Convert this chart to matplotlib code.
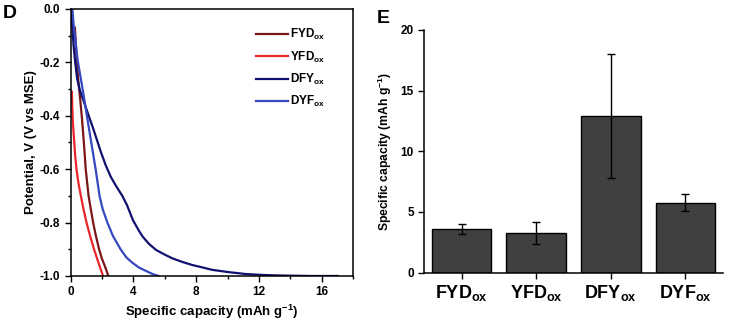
import numpy as np
import matplotlib
matplotlib.use("Agg")
import matplotlib.pyplot as plt
from matplotlib.ticker import MultipleLocator, FormatStrFormatter

plt.rcParams['font.family'] = ['Liberation Sans', 'DejaVu Sans']
plt.rcParams['font.weight'] = 'bold'
plt.rcParams['mathtext.fontset'] = 'custom'
plt.rcParams['mathtext.rm'] = 'Liberation Sans:bold'
plt.rcParams['mathtext.bf'] = 'Liberation Sans:bold'

# discharge curves (capacity in mAh/g, potential in V vs MSE)
fyd_cap = [0.28, 0.33, 0.39, 0.50, 0.62, 0.73, 0.85, 0.97, 1.15, 1.44, 1.62, 1.82, 2.00, 2.20, 2.41]
fyd_pot = [-0.07, -0.12, -0.19, -0.27, -0.34, -0.41, -0.50, -0.60, -0.70, -0.80, -0.85, -0.90, -0.935, -0.965, -1.0]

yfd_cap = [0.09, 0.11, 0.14, 0.18, 0.24, 0.30, 0.38, 0.50, 0.66, 0.83, 1.02, 1.25, 1.50, 1.75, 2.07]
yfd_pot = [-0.31, -0.36, -0.41, -0.45, -0.50, -0.55, -0.60, -0.65, -0.70, -0.75, -0.80, -0.85, -0.90, -0.945, -1.0]

dfy_cap = [0.05, 0.12, 0.20, 0.30, 0.42, 0.60, 0.81, 1.10, 1.40, 1.67, 1.93, 2.24, 2.56, 2.90, 3.30,
           3.60, 3.97, 4.35, 4.60, 5.00, 5.45, 6.00, 6.49, 7.10, 7.76, 8.40, 9.02, 10.0, 11.13, 12.2,
           13.2, 15.3, 17.0]
dfy_pot = [0.0, -0.07, -0.14, -0.20, -0.26, -0.305, -0.34, -0.39, -0.44, -0.488, -0.535, -0.585, -0.628,
           -0.663, -0.70, -0.735, -0.79, -0.83, -0.853, -0.88, -0.9025, -0.92, -0.934, -0.947, -0.959,
           -0.968, -0.977, -0.985, -0.9925, -0.996, -0.998, -1.0, -1.0]

dyf_cap = [0.12, 0.20, 0.30, 0.45, 0.80, 1.10, 1.35, 1.60, 1.85, 2.05, 2.35, 2.70, 3.19, 3.55, 3.93,
           4.35, 4.77, 5.20, 5.60]
dyf_pot = [0.0, -0.06, -0.11, -0.19, -0.31, -0.42, -0.51, -0.60, -0.70, -0.75, -0.80, -0.85, -0.90,
           -0.93, -0.95, -0.968, -0.98, -0.992, -1.0]

# average capacity per peptide
peptides = ['FYD', 'YFD', 'DFY', 'DYF']
capacity = [3.6, 3.25, 12.9, 5.75]
capacity_err = [0.45, 0.9, 5.1, 0.7]

colors = ['#7a1616', '#e8262b', '#10106e', '#3548c0']

fig = plt.figure(figsize=(7.5, 3.26), dpi=100)

# panel D
ax1 = fig.add_axes([0.094, 0.1534, 0.377, 0.819])
curves = [(fyd_cap, fyd_pot), (yfd_cap, yfd_pot), (dfy_cap, dfy_pot), (dyf_cap, dyf_pot)]
for (cap, pot), name, c in zip(curves, peptides, colors):
    ax1.plot(cap, pot, color=c, lw=1.6, label=r'$\mathregular{%s_{ox}}$' % name)
ax1.set_xlim(0, 18)
ax1.set_ylim(-1.0, 0.0)
ax1.xaxis.set_major_locator(MultipleLocator(4))
ax1.xaxis.set_minor_locator(MultipleLocator(2))
ax1.yaxis.set_major_locator(MultipleLocator(0.2))
ax1.yaxis.set_minor_locator(MultipleLocator(0.1))
ax1.yaxis.set_major_formatter(FormatStrFormatter('%.1f'))
ax1.tick_params(which='both', direction='out', labelsize=8.5, width=1)
ax1.tick_params(which='major', length=4)
ax1.tick_params(which='minor', length=2.5)
for s in ax1.spines.values():
    s.set_linewidth(1.1)
ax1.set_xlabel(r'Specific capacity (mAh g$^{\mathregular{-1}}$)', fontsize=9.5, fontweight='bold', labelpad=3)
ax1.set_ylabel('Potential, V (V vs MSE)', fontsize=9.5, fontweight='bold', labelpad=2)
ax1.legend(loc='upper right', bbox_to_anchor=(0.938, 0.971), frameon=False, fontsize=8.5,
           handlelength=2.7, handletextpad=0.15, labelspacing=0.6)

# panel E
ax2 = fig.add_axes([0.5657, 0.1635, 0.398, 0.745])
pos = np.arange(len(peptides))
ax2.bar(pos, capacity, width=0.8, color='#404040', edgecolor='black', linewidth=1,
        yerr=capacity_err, capsize=3, error_kw=dict(elinewidth=1, capthick=1, ecolor='black'))
ax2.set_xlim(-0.5, 3.5)
ax2.set_ylim(0, 20)
ax2.set_yticks([0, 5, 10, 15, 20])
ax2.set_xticks(pos)
ax2.set_xticklabels([r'$\mathregular{%s_{ox}}$' % p for p in peptides], fontsize=13)
ax2.spines['top'].set_visible(False)
ax2.spines['right'].set_visible(False)
for s in ['left', 'bottom']:
    ax2.spines[s].set_linewidth(1.1)
ax2.tick_params(direction='out', length=4, width=1)
ax2.tick_params(axis='y', labelsize=8.5)
ax2.set_ylabel(r'Specific capacity (mAh g$^{\mathregular{-1}}$)', fontsize=8.7, fontweight='bold', labelpad=5)

fig.text(0.003, 0.985, 'D', fontsize=14, fontweight='bold', va='top', ha='left')
fig.text(0.502, 0.97, 'E', fontsize=14, fontweight='bold', va='top', ha='left')

fig.savefig('out.png', dpi=100)
